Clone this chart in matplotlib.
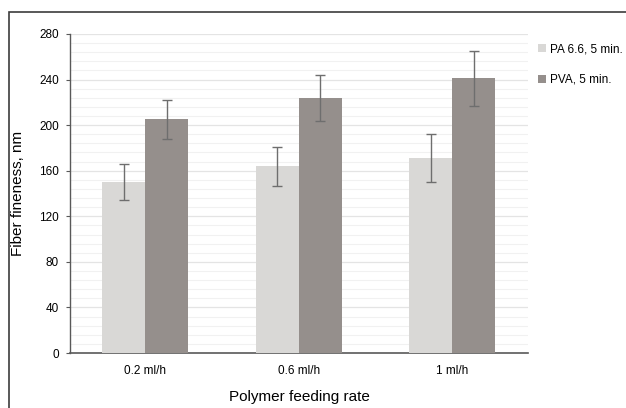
import numpy as np
import matplotlib.pyplot as plt
from matplotlib.patches import Rectangle

plt.rcParams['font.family'] = ['Liberation Sans', 'DejaVu Sans']

categories = ['0.2 ml/h', '0.6 ml/h', '1 ml/h']
pa_values = [150, 164, 171]
pa_err = [15.5, 17, 21]
pva_values = [205, 224, 241]
pva_err = [17, 20, 24]
series_names = ['PA 6.6, 5 min.', 'PVA, 5 min.']

fig = plt.figure(figsize=(6.26, 4.08), dpi=100)
ax = fig.add_axes([70 / 626, 55 / 408, 458 / 626, 319 / 408])

x = np.arange(len(categories))
w = 0.28
ekw = dict(ecolor='#6e6e6e', elinewidth=1.0, capsize=3.5, capthick=1.0)
ax.bar(x - w / 2, pa_values, w, color='#d9d8d6', label=series_names[0],
       yerr=pa_err, error_kw=ekw, zorder=3)
ax.bar(x + w / 2, pva_values, w, color='#958f8c', label=series_names[1],
       yerr=pva_err, error_kw=ekw, zorder=3)

ax.set_xlim(-0.49, 2.495)
ax.set_ylim(0, 280)
ax.set_yticks(np.arange(0, 281, 40))
ax.set_yticks(np.arange(0, 281, 8), minor=True)
ax.set_xticks(x)
ax.set_xticklabels(categories)
ax.grid(axis='y', which='major', color='#e4e4e4', linewidth=0.9, zorder=0)
ax.grid(axis='y', which='minor', color='#f1f1f1', linewidth=0.8, zorder=0)

for s in ['top', 'right']:
    ax.spines[s].set_visible(False)
ax.spines['left'].set_color('#595959')
ax.spines['bottom'].set_color('#595959')
ax.spines['left'].set_linewidth(1.0)
ax.spines['bottom'].set_linewidth(1.2)
ax.tick_params(axis='y', which='major', length=3, color='#595959', labelsize=8.5, pad=5)
ax.tick_params(axis='y', which='minor', length=0)
ax.tick_params(axis='x', length=0, labelsize=8.5, pad=9)

ax.set_ylabel('Fiber fineness, nm', fontsize=11, labelpad=10)
ax.set_xlabel('Polymer feeding rate', fontsize=11, labelpad=9)

fig.legend(loc='upper left', bbox_to_anchor=(538 / 626, 1 - 43 / 408), frameon=False,
           borderpad=0, borderaxespad=0,
           fontsize=8.5, handlelength=0.7, handleheight=0.7, handletextpad=0.3,
           labelspacing=1.6)

# frame line on left and top edge
fig.add_artist(Rectangle((8.5 / 626, -0.1), 1.2, 1.1 - 12 / 408, transform=fig.transFigure,
                         fill=False, edgecolor='#3c3c3c', linewidth=1.2))

fig.savefig('out.png', dpi=100, facecolor='white')
